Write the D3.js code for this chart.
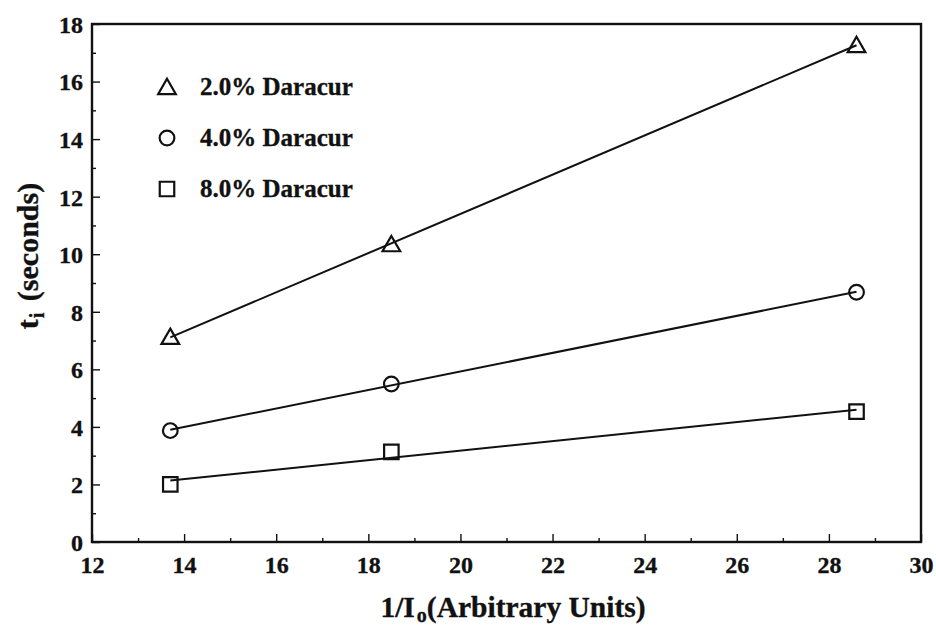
<!DOCTYPE html>
<html>
<head>
<meta charset="utf-8">
<script src="https://cdn.jsdelivr.net/npm/d3@7"></script>
<style>
  body { margin: 0; background: #fff; }
  svg text { font-family: "Liberation Serif", "Times New Roman", serif !important; font-weight: bold; fill: #111; stroke: #111; stroke-width: 0.35px; }
</style>
</head>
<body>
<div id="chart"></div>
<script>
// data
var xVals = [13.7, 18.5, 28.6];
var series2 = [7.13, 10.35, 17.27];   // 2.0% Daracur
var series4 = [3.87, 5.49, 8.68];     // 4.0% Daracur
var series8 = [2.0, 3.13, 4.53];      // 8.0% Daracur
var seriesNames = ["2.0% Daracur", "4.0% Daracur", "8.0% Daracur"];
var seriesShapes = ["triangle", "circle", "square"];
var xTicks = [12, 14, 16, 18, 20, 22, 24, 26, 28, 30];
var yTicks = [0, 2, 4, 6, 8, 10, 12, 14, 16, 18];

var W = 936, H = 625;
var margin = { top: 24, left: 92, right: 15, bottom: 83 };
var width = W - margin.left - margin.right,
    height = H - margin.top - margin.bottom;

var svg = d3.select("#chart").append("svg")
    .attr("width", W).attr("height", H);
var g = svg.append("g")
    .attr("transform", "translate(" + margin.left + "," + margin.top + ")");

var x = d3.scaleLinear().domain([12, 30]).range([0, width]);
var y = d3.scaleLinear().domain([0, 18]).range([height, 0]);

// frame
g.append("rect")
  .attr("width", width).attr("height", height)
  .attr("fill", "none").attr("stroke", "#111").attr("stroke-width", 2.4);

// bottom axis: major + minor ticks pointing inward
var xAxis = g.append("g").attr("transform", "translate(0," + height + ")");
xAxis.call(d3.axisBottom(x).tickValues(xTicks).tickSize(-8).tickFormat(d3.format("d")));
xAxis.append("g").call(d3.axisBottom(x).tickValues(d3.range(13, 30, 2)).tickSize(-4).tickFormat(""));
xAxis.selectAll(".domain").remove();
xAxis.selectAll("text").attr("y", 0).attr("dy", 31).style("font-size", "24px");

// left axis
var yAxis = g.append("g");
yAxis.call(d3.axisLeft(y).tickValues(yTicks).tickSize(-8).tickFormat(d3.format("d")));
yAxis.append("g").call(d3.axisLeft(y).tickValues(d3.range(1, 18, 2)).tickSize(-4).tickFormat(""));
yAxis.selectAll(".domain").remove();
yAxis.selectAll("text").attr("x", -9).attr("dy", "0.35em").style("font-size", "24px");

g.selectAll(".tick line").attr("stroke", "#111").attr("stroke-width", 1.4);

// fitted lines (least squares through each series)
function fit(ys) {
  var mx = d3.mean(xVals), my = d3.mean(ys);
  var sxy = d3.sum(xVals, function(v, i) { return (v - mx) * (ys[i] - my); });
  var sxx = d3.sum(xVals, function(v) { return (v - mx) * (v - mx); });
  var b = sxy / sxx, a = my - b * mx;
  return function(v) { return a + b * v; };
}

var allSeries = [series2, series4, series8];
var lineGen = d3.line().x(function(d) { return x(d[0]); }).y(function(d) { return y(d[1]); });

var symbolFor = {
  triangle: d3.symbol().type(d3.symbolTriangle).size(135),
  circle: d3.symbol().type(d3.symbolCircle).size(170),
  square: d3.symbol().type(d3.symbolSquare).size(210)
};

allSeries.forEach(function(ys, k) {
  var f = fit(ys);
  var ends = [xVals[0], xVals[xVals.length - 1]];
  g.append("path")
    .datum(ends.map(function(v) { return [v, f(v)]; }))
    .attr("d", lineGen)
    .attr("fill", "none").attr("stroke", "#111").attr("stroke-width", 2);

  g.selectAll(".pt" + k)
    .data(ys)
    .enter().append("path")
    .attr("class", "pt" + k)
    .attr("d", symbolFor[seriesShapes[k]])
    .attr("transform", function(d, i) {
      var dy = seriesShapes[k] === "triangle" ? 2 : 0;
      return "translate(" + x(xVals[i]) + "," + (y(d) + dy) + ")";
    })
    .attr("fill", "none").attr("stroke", "#111").attr("stroke-width", 2.2);
});

// legend
var legend = g.append("g").attr("transform", "translate(75,63)");
seriesNames.forEach(function(name, k) {
  var row = legend.append("g").attr("transform", "translate(0," + (k * 51) + ")");
  row.append("path")
    .attr("d", symbolFor[seriesShapes[k]])
    .attr("transform", "translate(0," + (seriesShapes[k] === "triangle" ? 2 : 0) + ")")
    .attr("fill", "none").attr("stroke", "#111").attr("stroke-width", 2.2);
  row.append("text")
    .attr("x", 33).attr("y", 8)
    .style("font-size", "25px")
    .text(name);
});

// axis titles
var xt = svg.append("text")
  .attr("x", 513).attr("y", 617)
  .attr("text-anchor", "middle")
  .style("font-size", "29.5px");
xt.append("tspan").text("1/I");
xt.append("tspan").attr("dy", 5).attr("dx", 2).style("font-size", "20px").text("o");
xt.append("tspan").attr("dy", -5).text("(Arbitrary Units)");

var yt = svg.append("text")
  .attr("transform", "translate(38,256) rotate(-90)")
  .attr("text-anchor", "middle")
  .style("font-size", "30px");
yt.append("tspan").text("t");
yt.append("tspan").attr("dy", 6).attr("dx", 1).style("font-size", "20px").text("i");
yt.append("tspan").attr("dy", -6).attr("dx", 4).text(" (seconds)");
</script>
</body>
</html>
